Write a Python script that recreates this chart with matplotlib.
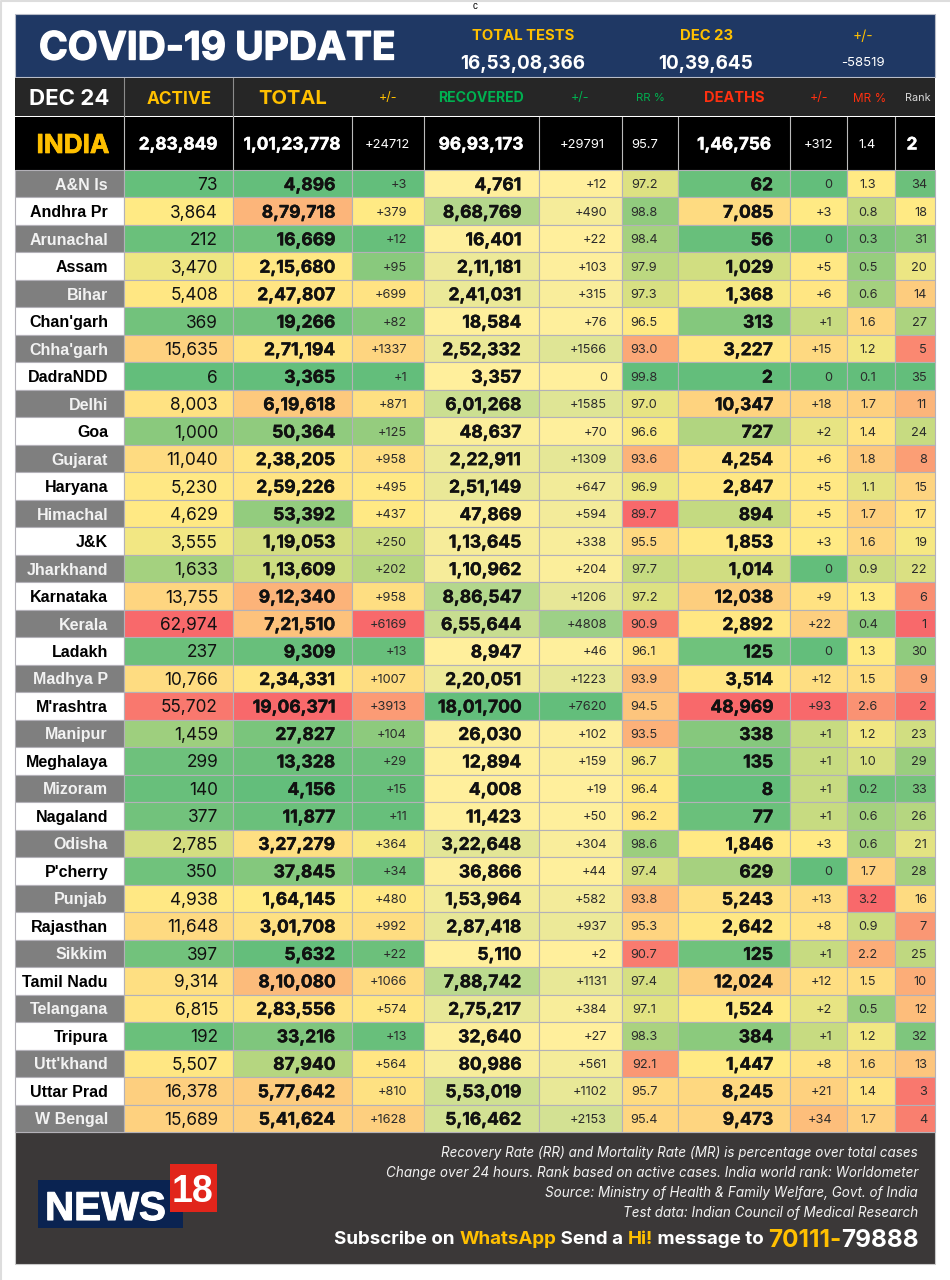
import matplotlib
matplotlib.use('Agg')
import numpy as np
import matplotlib.pyplot as plt
import matplotlib.patheffects as pe
from matplotlib.colors import LinearSegmentedColormap
from matplotlib.patches import Rectangle

states = ['A&N Is', 'Andhra Pr', 'Arunachal', 'Assam', 'Bihar', "Chan'garh", "Chha'garh", 'DadraNDD', 'Delhi',
          'Goa', 'Gujarat', 'Haryana', 'Himachal', 'J&K', 'Jharkhand', 'Karnataka', 'Kerala', 'Ladakh', 'Madhya P',
          "M'rashtra", 'Manipur', 'Meghalaya', 'Mizoram', 'Nagaland', 'Odisha', "P'cherry", 'Punjab', 'Rajasthan',
          'Sikkim', 'Tamil Nadu', 'Telangana', 'Tripura', "Utt'khand", 'Uttar Prad', 'W Bengal']
active = [73, 3864, 212, 3470, 5408, 369, 15635, 6, 8003, 1000, 11040, 5230, 4629, 3555, 1633, 13755, 62974, 237,
          10766, 55702, 1459, 299, 140, 377, 2785, 350, 4938, 11648, 397, 9314, 6815, 192, 5507, 16378, 15689]
total = [4896, 879718, 16669, 215680, 247807, 19266, 271194, 3365, 619618, 50364, 238205, 259226, 53392, 119053,
         113609, 912340, 721510, 9309, 234331, 1906371, 27827, 13328, 4156, 11877, 327279, 37845, 164145, 301708,
         5632, 810080, 283556, 33216, 87940, 577642, 541624]
total_chg = [3, 379, 12, 95, 699, 82, 1337, 1, 871, 125, 958, 495, 437, 250, 202, 958, 6169, 13, 1007, 3913, 104,
             29, 15, 11, 364, 34, 480, 992, 22, 1066, 574, 13, 564, 810, 1628]
recovered = [4761, 868769, 16401, 211181, 241031, 18584, 252332, 3357, 601268, 48637, 222911, 251149, 47869, 113645,
             110962, 886547, 655644, 8947, 220051, 1801700, 26030, 12894, 4008, 11423, 322648, 36866, 153964, 287418,
             5110, 788742, 275217, 32640, 80986, 553019, 516462]
rec_chg = [12, 490, 22, 103, 315, 76, 1566, 0, 1585, 70, 1309, 647, 594, 338, 204, 1206, 4808, 46, 1223, 7620, 102,
           159, 19, 50, 304, 44, 582, 937, 2, 1131, 384, 27, 561, 1102, 2153]
rr = [97.2, 98.8, 98.4, 97.9, 97.3, 96.5, 93.0, 99.8, 97.0, 96.6, 93.6, 96.9, 89.7, 95.5, 97.7, 97.2, 90.9, 96.1,
      93.9, 94.5, 93.5, 96.7, 96.4, 96.2, 98.6, 97.4, 93.8, 95.3, 90.7, 97.4, 97.1, 98.3, 92.1, 95.7, 95.4]
deaths = [62, 7085, 56, 1029, 1368, 313, 3227, 2, 10347, 727, 4254, 2847, 894, 1853, 1014, 12038, 2892, 125, 3514,
          48969, 338, 135, 8, 77, 1846, 629, 5243, 2642, 125, 12024, 1524, 384, 1447, 8245, 9473]
death_chg = [0, 3, 0, 5, 6, 1, 15, 0, 18, 2, 6, 5, 5, 3, 0, 9, 22, 0, 12, 93, 1, 1, 1, 1, 3, 0, 13, 8, 1, 12, 2, 1,
             8, 21, 34]
mr = [1.3, 0.8, 0.3, 0.5, 0.6, 1.6, 1.2, 0.1, 1.7, 1.4, 1.8, 1.1, 1.7, 1.6, 0.9, 1.3, 0.4, 1.3, 1.5, 2.6, 1.2, 1.0,
      0.2, 0.6, 0.6, 1.7, 3.2, 0.9, 2.2, 1.5, 0.5, 1.2, 1.6, 1.4, 1.7]
rank = [34, 18, 31, 20, 14, 27, 5, 35, 11, 24, 8, 15, 17, 19, 22, 6, 1, 30, 9, 2, 23, 29, 33, 26, 21, 28, 16, 7, 25,
        10, 12, 32, 13, 3, 4]

india = ['2,83,849', '1,01,23,778', '+24712', '96,93,173', '+29791', '95.7', '1,46,756', '+312', '1.4', '2']
headers = ['ACTIVE', 'TOTAL', '+/-', 'RECOVERED', '+/-', 'RR %', 'DEATHS', '+/-', 'MR %', 'Rank']
notes = ['Recovery Rate (RR) and Mortality Rate (MR) is percentage over total cases',
         'Change over 24 hours. Rank based on active cases. India world rank: Worldometer',
         'Source: Ministry of Health & Family Welfare, Govt. of India',
         'Test data: Indian Council of Medical Research']

GREEN, YELLOW, RED = '#63BE7B', '#FFEB84', '#F8696B'
GOLD = '#FFC000'
HGREEN = '#00B050'
HRED = '#FF3010'
GRID = '#B3B1B8'
FONT = 'Inter'

three = LinearSegmentedColormap.from_list('gyr', [GREEN, YELLOW, RED])
two = LinearSegmentedColormap.from_list('yg', ['#FFEF9C', GREEN])


# same as the excel colour scale: min / median / max
# low_pow bends the lower half, the +/- deaths column climbs faster than linear
def scale3(vals, flip=False, low_pow=1.0):
    v = np.array(vals, dtype=float)
    lo, mid, hi = v.min(), np.median(v), v.max()
    low = np.clip((v - lo) / (mid - lo), 0, 1) ** low_pow
    t = np.where(v <= mid, low * 0.5, 0.5 + (v - mid) / (hi - mid) * 0.5)
    return three(1 - t if flip else t)


def scale2(vals):
    v = np.array(vals, dtype=float)
    return two((v - v.min()) / (v.max() - v.min()))


# lakh style grouping 1,01,23,778
def inr(n):
    s = str(n)
    if len(s) <= 3:
        return s
    head, tail = s[:-3], s[-3:]
    parts = []
    while len(head) > 2:
        parts.insert(0, head[-2:])
        head = head[:-2]
    parts.insert(0, head)
    return ','.join(parts) + ',' + tail


def chg(n):
    return '+%d' % n if n else '0'


fig = plt.figure(figsize=(9.5, 12.8), dpi=100, facecolor='white')
ax = fig.add_axes([0, 0, 1, 1])
ax.set_xlim(0, 950)
ax.set_ylim(1280, 0)
ax.axis('off')


def box(x0, y0, x1, y1, color, ec='none', lw=0, z=1):
    ax.add_patch(Rectangle((x0, y0), x1 - x0, y1 - y0, facecolor=color, edgecolor=ec, linewidth=lw, zorder=z))


def txt(x, y, s, size, color='black', ha='center', weight='normal', heavy=0, **kw):
    kw.setdefault('family', FONT)
    t = ax.text(x, y, s, fontsize=size, color=color, ha=ha, va='center_baseline', fontweight=weight, zorder=5, **kw)
    # the source font is heavier than anything installed, thicken with a stroke
    if heavy:
        t.set_path_effects([pe.withStroke(linewidth=heavy, foreground=color)])
    return t


edges = [15, 124, 233, 351.5, 423.5, 539, 622, 678, 790, 847, 895, 935]
top, bottom = 170, 1132
row_h = (bottom - top) / len(states)

# page edge and the stray letter on top
ax.plot([1, 1, 950], [1280, 1, 1], color='#DDDDDD', lw=1.5, zorder=1)
txt(475, 5, 'c', 7, family='Liberation Sans')

# title band
box(15, 14, 935, 77, '#1F3864', ec='#B8BCC8', lw=0.8)
txt(39, 45, 'COVID-19 UPDATE', 28, 'white', ha='left', weight='bold', heavy=1.0)
txt(523, 34, 'TOTAL TESTS', 10.7, GOLD, weight='bold')
txt(523, 62, '16,53,08,366', 13.6, 'white', weight='bold')
txt(706, 34, 'DEC 23', 10.7, GOLD, weight='bold')
txt(706, 62, '10,39,645', 13.6, 'white', weight='bold')
txt(863, 34, '+/-', 10, GOLD)
txt(863, 61, '-58519', 9.5, 'white')

# column heading row
box(15, 78, 935, 116, '#262626')
txt(69, 97, 'DEC 24', 16, 'white', weight='bold')
hx = [179, 293, 388, 481, 580, 650, 734, 819, 870, 918]
hc = [GOLD, GOLD, GOLD, HGREEN, HGREEN, HGREEN, HRED, HRED, HRED, '#D9D9D9']
hs = [12.4, 14.5, 9, 10.2, 9, 8.2, 10.5, 9, 8.5, 7.8]
hw = ['bold', 'bold', 'normal', 'bold', 'normal', 'normal', 'bold', 'normal', 'normal', 'normal']
for x, s, c, sz, w in zip(hx, headers, hc, hs, hw):
    txt(x, 97, s, sz, c, weight=w)
for x in edges[1:3]:
    ax.plot([x, x], [78, 116], color='#8C8C8C', lw=0.8, zorder=3)

# india row
box(15, 117, 935, 170, 'black')
txt(73, 143, 'INDIA', 18.8, GOLD, weight='bold', heavy=0.5)
ix = [178, 292, 387, 481, 582, 645, 734, 819, 867, 912]
bold_cols = [0, 1, 3, 6, 9]
for i, (x, s) in enumerate(zip(ix, india)):
    big = i in bold_cols
    txt(x, 143, s, 12.4 if big else 9.3, 'white', weight='bold' if big else 'normal', heavy=0.3 if big else 0)
for x in edges[1:-1]:
    ax.plot([x, x], [117, 170], color='#BBBBBB', lw=0.8, zorder=3)

# heat table
columns = [
    (scale3(active), [inr(v) for v in active], 218, 'right', 12.4, 'normal'),
    (scale3(total), [inr(v) for v in total], 335, 'right', 12.6, 'bold'),
    (scale3(total_chg), [chg(v) for v in total_chg], 407, 'right', 9.2, 'normal'),
    (scale2(recovered), [inr(v) for v in recovered], 521, 'right', 12.6, 'bold'),
    (scale2(rec_chg), [chg(v) for v in rec_chg], 607, 'right', 9.2, 'normal'),
    (scale3(rr, flip=True), ['%.1f' % v for v in rr], 644, 'center', 9.2, 'normal'),
    (scale3(deaths), [inr(v) for v in deaths], 773, 'right', 12.6, 'bold'),
    (scale3(death_chg, low_pow=0.4), [chg(v) for v in death_chg], 832, 'right', 9.2, 'normal'),
    (scale3(mr), ['%.1f' % v for v in mr], 868, 'center', 9.2, 'normal'),
    (scale3(rank, flip=True), [str(v) for v in rank], 927, 'right', 9.2, 'normal'),
]
for r, name in enumerate(states):
    y0 = top + r * row_h
    y1 = y0 + row_h
    ym = (y0 + y1) / 2
    shade = r % 2 == 0
    box(edges[0], y0, edges[1], y1, '#7F7F7F' if shade else 'white', ec=GRID, lw=0.8, z=2)
    txt(108, ym, name, 11.5, '#F2F2F2' if shade else 'black', ha='right', weight='bold', family='Liberation Sans')
    for c, (colors, labels, tx, ha, size, weight) in enumerate(columns):
        box(edges[c + 1], y0, edges[c + 2], y1, colors[r], ec=GRID, lw=0.8, z=2)
        tc = '#111111' if weight == 'bold' or size > 10 else '#2B2B2B'
        txt(tx, ym, labels[r], size, tc, ha=ha, weight=weight, heavy=0.3 if weight == 'bold' else 0)

# footer
box(15, 1132, 935, 1264, '#3B3838', ec='#C8C8C8', lw=0.8)
for y, s in zip([1152, 1172, 1191, 1211], notes):
    txt(918, y, s, 9.7, '#F2F2F2', ha='right', style='italic')

# subscribe line, placed right to left
parts = [('Subscribe on ', 'white', 13.5), ('WhatsApp', GOLD, 13.5), (' Send a ', 'white', 13.5), ('Hi!', GOLD, 13.5),
         (' message to ', 'white', 13.5), ('70111-', GOLD, 17.5), ('79888', 'white', 17.5)]
rend = fig.canvas.get_renderer()
x = 919
for s, c, sz in parts[::-1]:
    t = txt(x, 1238, s.replace(' ', '\u00a0'), sz, c, ha='right', weight='bold')
    x -= t.get_window_extent(rend).width

# news18 logo
box(38, 1180, 183, 1228, '#0A2351', z=2)
box(170, 1164, 217, 1212, '#E1251B', z=3)
txt(105.5, 1205, 'NEWS', 29, 'white', weight='bold', family='Liberation Sans', heavy=0.8)
txt(193, 1188, '18', 27, 'white', weight='bold', family='Liberation Sans')

fig.savefig('out.png', dpi=100)
